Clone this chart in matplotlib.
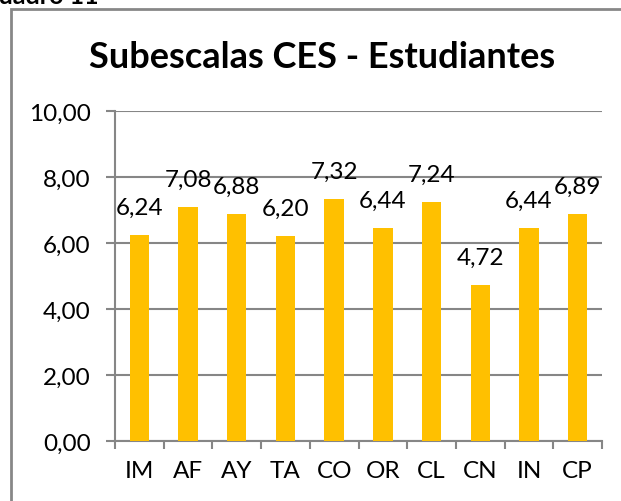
import numpy as np
import matplotlib
matplotlib.use("Agg")
import matplotlib.pyplot as plt
import matplotlib.patches as mpatches

# datos del grafico
subescalas = ['IM', 'AF', 'AY', 'TA', 'CO', 'OR', 'CL', 'CN', 'IN', 'CP']
medias = [6.24, 7.08, 6.88, 6.20, 7.32, 6.44, 7.24, 4.72, 6.44, 6.89]
y_ticks = [0, 2, 4, 6, 8, 10]

titulo = 'Subescalas CES - Estudiantes'
cuadro = 'Cuadro 11'

plt.rcParams['font.family'] = ['Lato', 'DejaVu Sans']

bar_color = '#FFC000'
grid_color = '#868686'

fig = plt.figure(figsize=(6.21, 5.02), dpi=100)
ax = fig.add_axes([115 / 621, 1 - 442 / 502, 487 / 621, 330 / 502])

x = np.arange(len(subescalas))
bars = ax.bar(x, medias, width=0.4, color=bar_color, zorder=3)

# etiquetas de valor, con coma decimal
for xi, v in zip(x, medias):
    ax.annotate(f'{v:.2f}'.replace('.', ','), (xi, v), xytext=(0, 20),
                textcoords='offset points', ha='center', va='center',
                fontsize=17.5, color='black')

ax.set_xlim(-0.5, len(subescalas) - 0.5)
ax.set_ylim(0, 10)
ax.set_yticks(y_ticks)
ax.set_yticklabels([f'{t:.2f}'.replace('.', ',') for t in y_ticks], fontsize=17.5)
ax.yaxis.grid(True, color=grid_color, linewidth=1.5, zorder=0)
ax.tick_params(axis='y', length=6.5, width=1.5, color=grid_color, pad=11)

# ticks del eje x entre categorias
ax.set_xticks(np.arange(-0.5, len(subescalas), 1.0))
ax.set_xticklabels([])
ax.set_xticks(x, minor=True)
ax.set_xticklabels(subescalas, minor=True, fontsize=17.5)
ax.tick_params(axis='x', which='major', length=6, width=1.5, color=grid_color)
ax.tick_params(axis='x', which='minor', length=0, pad=14)

for s in ['top', 'right']:
    ax.spines[s].set_visible(False)
for s in ['left', 'bottom']:
    ax.spines[s].set_color(grid_color)
    ax.spines[s].set_linewidth(1.5)
ax.set_axisbelow(True)

fig.text(322 / 621, 1 - 58 / 502, titulo, ha='center', va='center',
         fontsize=26, fontweight='bold')
fig.text(-18 / 621, 1 - 4 / 502, cuadro, ha='left', va='baseline',
         fontsize=18, fontweight='bold')

# marco exterior del grafico
marco = mpatches.Rectangle((11 / 621, -0.05), 1.1, 1 - 10 / 502 + 0.05,
                           transform=fig.transFigure, fill=False,
                           edgecolor='#878787', linewidth=2, clip_on=False)
fig.patches.append(marco)

fig.savefig('out.png', dpi=100)
